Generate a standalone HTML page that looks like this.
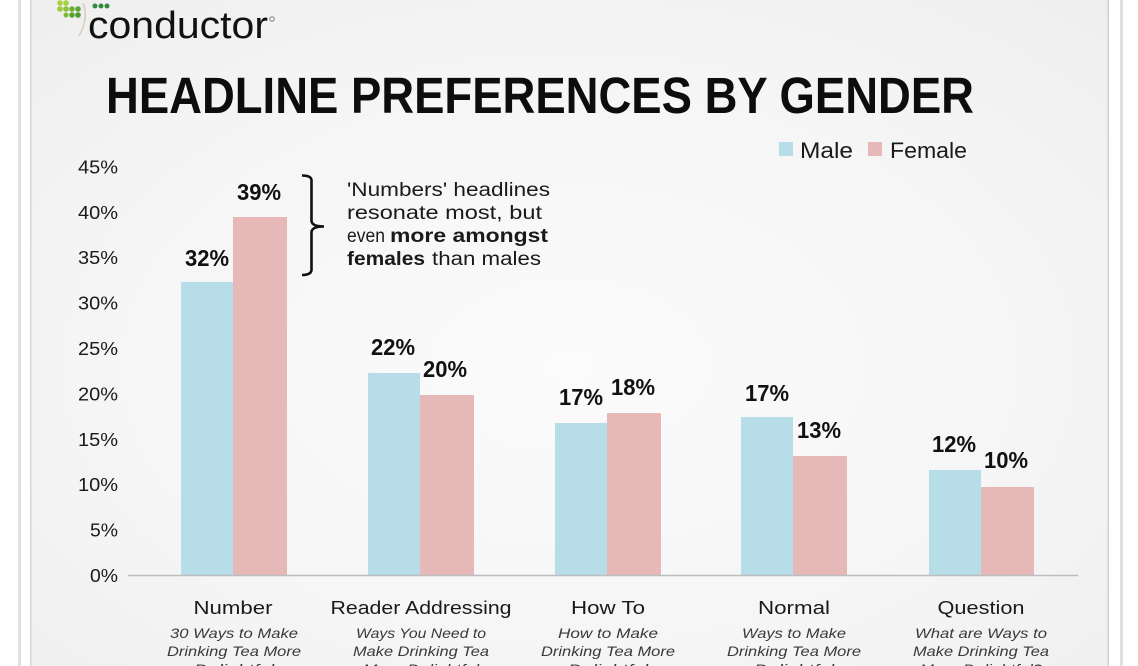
<!DOCTYPE html>
<html>
<head>
<meta charset="utf-8">
<style>
  html,body{margin:0;padding:0;background:#ffffff;}
  svg{display:block;}
  text{font-family:"Liberation Sans",sans-serif;}
</style>
</head>
<body>
<svg width="1138" height="666" viewBox="0 0 1138 666" xmlns="http://www.w3.org/2000/svg">
  <defs>
    <radialGradient id="bg" cx="0.5" cy="0.55" r="0.75">
      <stop offset="0" stop-color="#fbfbfb"/>
      <stop offset="0.6" stop-color="#f5f5f5"/>
      <stop offset="1" stop-color="#eeeeee"/>
    </radialGradient>
  </defs>
  <rect x="0" y="0" width="1138" height="666" fill="#ffffff"/>
  <!-- outer grey frame lines -->
  <rect x="18" y="0" width="3" height="666" fill="#dce2e2"/>
  <rect x="1120" y="0" width="3" height="666" fill="#dce2e2"/>
  <!-- image background -->
  <rect x="30" y="0" width="1079" height="666" fill="url(#bg)"/>
  <rect x="30" y="0" width="1.5" height="666" fill="#d6d6d6"/>
  <rect x="1107.5" y="0" width="1.5" height="666" fill="#d2d2d2"/>

  <!-- logo -->
  <g>
    <circle cx="60" cy="3" r="2.8" fill="#a8d23a"/>
    <circle cx="66" cy="3" r="2.8" fill="#a8d23a"/>
    <circle cx="60" cy="9" r="2.8" fill="#9fcd35"/>
    <circle cx="66" cy="9" r="2.8" fill="#8fc23a"/>
    <circle cx="72" cy="9" r="2.8" fill="#6fb23a"/>
    <circle cx="78" cy="9" r="2.8" fill="#5aa533"/>
    <circle cx="72" cy="15" r="2.8" fill="#5aa533"/>
    <circle cx="78" cy="15" r="2.8" fill="#4e9c30"/>
    <circle cx="66" cy="15" r="2.5" fill="#7cbb3a"/>
    <circle cx="95" cy="6" r="2.5" fill="#2f8a3c"/>
    <circle cx="101" cy="6" r="2.5" fill="#2f8a3c"/>
    <circle cx="107" cy="6" r="2.5" fill="#2f8a3c"/>
    <path d="M83 3 Q89 18 79 36" fill="none" stroke="#d9cbbd" stroke-width="1.5"/>
    <text x="88" y="38" font-size="38" fill="#111" textLength="180" lengthAdjust="spacingAndGlyphs">conductor</text>
    <circle cx="272" cy="19" r="2.2" fill="none" stroke="#666" stroke-width="0.8"/>
  </g>

  <!-- title -->
  <text x="106" y="113" font-size="51" font-weight="bold" fill="#0d0d0d" textLength="868" lengthAdjust="spacingAndGlyphs">HEADLINE PREFERENCES BY GENDER</text>

  <!-- legend -->
  <rect x="779" y="142" width="14" height="14" fill="#b7dde8"/>
  <text x="800" y="158" font-size="22" fill="#1a1a1a" textLength="53" lengthAdjust="spacingAndGlyphs">Male</text>
  <rect x="868" y="142" width="14" height="14" fill="#e6b9b8"/>
  <text x="890" y="158" font-size="22" fill="#1a1a1a" textLength="77" lengthAdjust="spacingAndGlyphs">Female</text>

  <!-- y axis labels -->
  <g font-size="18" fill="#1a1a1a" text-anchor="end">
    <text x="118" y="582" textLength="28" lengthAdjust="spacingAndGlyphs">0%</text>
    <text x="118" y="536.6" textLength="28" lengthAdjust="spacingAndGlyphs">5%</text>
    <text x="118" y="491.2" textLength="40" lengthAdjust="spacingAndGlyphs">10%</text>
    <text x="118" y="445.8" textLength="40" lengthAdjust="spacingAndGlyphs">15%</text>
    <text x="118" y="400.4" textLength="40" lengthAdjust="spacingAndGlyphs">20%</text>
    <text x="118" y="355" textLength="40" lengthAdjust="spacingAndGlyphs">25%</text>
    <text x="118" y="309.6" textLength="40" lengthAdjust="spacingAndGlyphs">30%</text>
    <text x="118" y="264.2" textLength="40" lengthAdjust="spacingAndGlyphs">35%</text>
    <text x="118" y="218.8" textLength="40" lengthAdjust="spacingAndGlyphs">40%</text>
    <text x="118" y="173.4" textLength="40" lengthAdjust="spacingAndGlyphs">45%</text>
  </g>

  <!-- bars -->
  <g>
    <rect x="181" y="282" width="52" height="293" fill="#b7dde8"/>
    <rect x="233" y="217" width="54" height="358" fill="#e6b9b8"/>
    <rect x="368" y="373" width="52" height="202" fill="#b7dde8"/>
    <rect x="420" y="395" width="54" height="180" fill="#e6b9b8"/>
    <rect x="555" y="423" width="52" height="152" fill="#b7dde8"/>
    <rect x="607" y="413" width="54" height="162" fill="#e6b9b8"/>
    <rect x="741" y="417" width="52" height="158" fill="#b7dde8"/>
    <rect x="793" y="456" width="54" height="119" fill="#e6b9b8"/>
    <rect x="929" y="470" width="52" height="105" fill="#b7dde8"/>
    <rect x="981" y="487" width="53" height="88" fill="#e6b9b8"/>
  </g>

  <!-- axis line -->
  <line x1="128" y1="575.5" x2="1078" y2="575.5" stroke="#bdbdbd" stroke-width="1.5"/>

  <!-- data labels -->
  <g font-size="23" font-weight="bold" fill="#111" text-anchor="middle">
    <text x="207" y="266" textLength="44" lengthAdjust="spacingAndGlyphs">32%</text>
    <text x="259" y="200" textLength="44" lengthAdjust="spacingAndGlyphs">39%</text>
    <text x="393" y="355" textLength="44" lengthAdjust="spacingAndGlyphs">22%</text>
    <text x="445" y="377" textLength="44" lengthAdjust="spacingAndGlyphs">20%</text>
    <text x="581" y="405" textLength="44" lengthAdjust="spacingAndGlyphs">17%</text>
    <text x="633" y="395" textLength="44" lengthAdjust="spacingAndGlyphs">18%</text>
    <text x="767" y="401" textLength="44" lengthAdjust="spacingAndGlyphs">17%</text>
    <text x="819" y="438" textLength="44" lengthAdjust="spacingAndGlyphs">13%</text>
    <text x="954" y="452" textLength="44" lengthAdjust="spacingAndGlyphs">12%</text>
    <text x="1006" y="468" textLength="44" lengthAdjust="spacingAndGlyphs">10%</text>
  </g>

  <!-- bracket -->
  <path d="M302 175.5 Q311 175.5 311.5 180 L311.5 221 Q312 226.5 324 226.5 Q312 226.5 311.5 232 L311.5 270 Q311 275 302 275" fill="none" stroke="#111" stroke-width="2.6"/>

  <!-- annotation -->
  <g font-size="19" fill="#1a1a1a">
    <text x="347" y="196" textLength="203" lengthAdjust="spacingAndGlyphs">'Numbers' headlines</text>
    <text x="347" y="219" textLength="195" lengthAdjust="spacingAndGlyphs">resonate most, but</text>
    <text x="347" y="242" textLength="38" lengthAdjust="spacingAndGlyphs">even</text>
    <text x="390" y="242" font-weight="bold" textLength="158" lengthAdjust="spacingAndGlyphs">more amongst</text>
    <text x="347" y="265" font-weight="bold" textLength="78" lengthAdjust="spacingAndGlyphs">females</text>
    <text x="432" y="265" textLength="109" lengthAdjust="spacingAndGlyphs">than males</text>
  </g>

  <!-- category labels -->
  <g font-size="18" fill="#1a1a1a" text-anchor="middle">
    <text x="233" y="614" textLength="79" lengthAdjust="spacingAndGlyphs">Number</text>
    <text x="421" y="614" textLength="181" lengthAdjust="spacingAndGlyphs">Reader Addressing</text>
    <text x="608" y="614" textLength="74" lengthAdjust="spacingAndGlyphs">How To</text>
    <text x="794" y="614" textLength="72" lengthAdjust="spacingAndGlyphs">Normal</text>
    <text x="981" y="614" textLength="87" lengthAdjust="spacingAndGlyphs">Question</text>
  </g>

  <!-- sub labels -->
  <g font-size="14" font-style="italic" fill="#3a3a3a" text-anchor="middle">
    <text x="234" y="638" textLength="128" lengthAdjust="spacingAndGlyphs">30 Ways to Make</text>
    <text x="234" y="656" textLength="134" lengthAdjust="spacingAndGlyphs">Drinking Tea More</text>
    <text x="234" y="674" textLength="80" lengthAdjust="spacingAndGlyphs">Delightful</text>

    <text x="421" y="638" textLength="130" lengthAdjust="spacingAndGlyphs">Ways You Need to</text>
    <text x="421" y="656" textLength="136" lengthAdjust="spacingAndGlyphs">Make Drinking Tea</text>
    <text x="421" y="674" textLength="116" lengthAdjust="spacingAndGlyphs">More Delightful</text>

    <text x="608" y="638" textLength="100" lengthAdjust="spacingAndGlyphs">How to Make</text>
    <text x="608" y="656" textLength="134" lengthAdjust="spacingAndGlyphs">Drinking Tea More</text>
    <text x="608" y="674" textLength="80" lengthAdjust="spacingAndGlyphs">Delightful</text>

    <text x="794" y="638" textLength="104" lengthAdjust="spacingAndGlyphs">Ways to Make</text>
    <text x="794" y="656" textLength="134" lengthAdjust="spacingAndGlyphs">Drinking Tea More</text>
    <text x="794" y="674" textLength="80" lengthAdjust="spacingAndGlyphs">Delightful</text>

    <text x="981" y="638" textLength="132" lengthAdjust="spacingAndGlyphs">What are Ways to</text>
    <text x="981" y="656" textLength="136" lengthAdjust="spacingAndGlyphs">Make Drinking Tea</text>
    <text x="981" y="674" textLength="122" lengthAdjust="spacingAndGlyphs">More Delightful?</text>
  </g>
</svg>
</body>
</html>
